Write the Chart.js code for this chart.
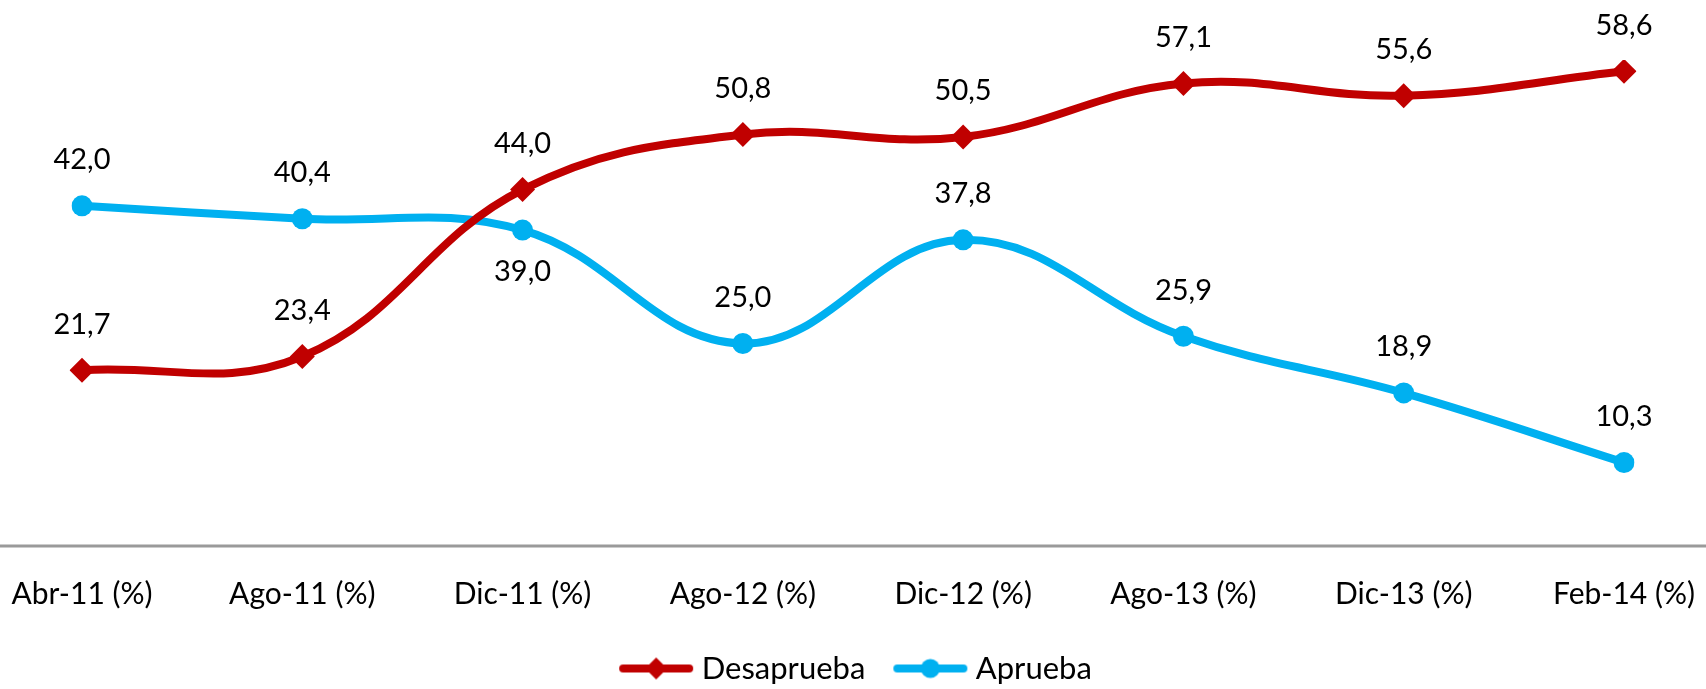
<!DOCTYPE html>
<html lang="es">
<head>
<meta charset="utf-8">
<title>Desaprueba / Aprueba</title>
<script src="https://cdn.jsdelivr.net/npm/chart.js@4.4.1/dist/chart.umd.min.js"></script>
<style>
  html, body { margin: 0; padding: 0; background: #ffffff; }
  #wrap { width: 1706px; height: 689px; }
</style>
</head>
<body>
<div id="wrap"><canvas id="chart" width="1706" height="689"></canvas></div>
<script>
// Survey periods and results (percent)
const periodos = ['Abr-11 (%)', 'Ago-11 (%)', 'Dic-11 (%)', 'Ago-12 (%)', 'Dic-12 (%)', 'Ago-13 (%)', 'Dic-13 (%)', 'Feb-14 (%)'];
const desaprueba = [21.7, 23.4, 44.0, 50.8, 50.5, 57.1, 55.6, 58.6];
const aprueba = [42.0, 40.4, 39.0, 25.0, 37.8, 25.9, 18.9, 10.3];

const ROJO = '#C00000';
const AZUL = '#00B0F0';
const FONT = 'Lato, "Open Sans", sans-serif';

// Legend swatch: a short line with the series marker in the middle
function legendSwatch(color, shape) {
  const c = document.createElement('canvas');
  c.width = 80; c.height = 26;
  const g = c.getContext('2d');
  g.strokeStyle = color;
  g.lineWidth = 8;
  g.lineCap = 'round';
  g.beginPath(); g.moveTo(7, 13); g.lineTo(73, 13); g.stroke();
  g.fillStyle = color;
  g.beginPath();
  if (shape === 'diamond') {
    g.moveTo(40 - 11, 13); g.lineTo(40, 2); g.lineTo(40 + 11, 13); g.lineTo(40, 24); g.closePath();
  } else {
    g.arc(40, 13, 9.5, 0, Math.PI * 2);
  }
  g.fill();
  return c;
}

// Value labels written with a decimal comma, above each point (or below where noted)
const valueLabels = {
  id: 'valueLabels',
  afterDatasetsDraw(chart, args, opts) {
    const ctx = chart.ctx;
    ctx.save();
    ctx.font = opts.font;
    ctx.fillStyle = opts.color;
    ctx.textAlign = 'center';
    ctx.textBaseline = 'middle';
    chart.data.datasets.forEach((ds, i) => {
      const meta = chart.getDatasetMeta(i);
      const below = (opts.below[i] || []);
      meta.data.forEach((pt, j) => {
        const txt = ds.data[j].toFixed(1).replace('.', ',');
        const y = below.includes(j) ? pt.y + opts.offsetBelow : pt.y - opts.offsetAbove;
        ctx.fillText(txt, pt.x, y);
      });
    });
    ctx.restore();
  }
};

// Horizontal category axis line spanning the full width
const baseLine = {
  id: 'baseLine',
  beforeDatasetsDraw(chart, args, opts) {
    const ctx = chart.ctx;
    const y = chart.chartArea.bottom;
    ctx.save();
    ctx.strokeStyle = opts.color;
    ctx.lineWidth = opts.width;
    ctx.beginPath();
    ctx.moveTo(0, y);
    ctx.lineTo(chart.width, y);
    ctx.stroke();
    ctx.restore();
  }
};

// Nudge the legend block sideways after layout
const legendShift = {
  id: 'legendShift',
  afterLayout(chart, args, opts) {
    if (chart.legend) {
      chart.legend.left += opts.dx;
      chart.legend.right += opts.dx;
    }
  }
};

new Chart(document.getElementById('chart'), {
  type: 'line',
  data: {
    labels: periodos,
    datasets: [
      {
        label: 'Desaprueba',
        data: desaprueba,
        borderColor: ROJO,
        backgroundColor: ROJO,
        borderWidth: 8,
        tension: 0.4,
        pointStyle: 'rectRot',
        pointRadius: 12.5,
        pointHoverRadius: 12.5,
        pointBorderWidth: 0,
        pointBackgroundColor: ROJO
      },
      {
        label: 'Aprueba',
        data: aprueba,
        borderColor: AZUL,
        backgroundColor: AZUL,
        borderWidth: 8,
        tension: 0.4,
        pointStyle: 'circle',
        pointRadius: 10.5,
        pointHoverRadius: 10.5,
        pointBorderWidth: 0,
        pointBackgroundColor: AZUL
      }
    ]
  },
  options: {
    responsive: false,
    devicePixelRatio: 1,
    animation: false,
    layout: { padding: { top: 60, left: 82, right: 82, bottom: 0 } },
    scales: {
      x: {
        type: 'category',
        offset: false,
        grid: { display: false, drawTicks: false },
        border: { display: false },
        ticks: {
          autoSkip: false,
          maxRotation: 0,
          color: '#000000',
          padding: 30,
          font: { family: FONT, size: 30 }
        },
        afterFit(scale) {
          scale.paddingLeft = 0;
          scale.paddingRight = 0;
          scale.height = 72;
        }
      },
      y: {
        display: false,
        min: 0,
        max: 60
      }
    },
    plugins: {
      legend: {
        position: 'bottom',
        maxHeight: 71,
        labels: {
          usePointStyle: true,
          pointStyleWidth: 60,
          padding: 35,
          color: '#000000',
          font: { family: FONT, size: 31 },
          generateLabels(chart) {
            return chart.data.datasets.map((ds, i) => ({
              text: ds.label,
              datasetIndex: i,
              fillStyle: ds.borderColor,
              strokeStyle: ds.borderColor,
              lineWidth: 0,
              fontColor: '#000000',
              pointStyle: legendSwatch(ds.borderColor, i === 0 ? 'diamond' : 'circle'),
              hidden: false
            }));
          }
        }
      },
      legendShift: { dx: 6 },
      tooltip: { enabled: false },
      valueLabels: {
        font: '29px ' + FONT,
        color: '#000000',
        offsetAbove: 46,
        offsetBelow: 42,
        below: { 1: [2] }
      },
      baseLine: { color: '#9a9a9a', width: 3 }
    }
  },
  plugins: [valueLabels, baseLine, legendShift]
});
</script>
</body>
</html>
